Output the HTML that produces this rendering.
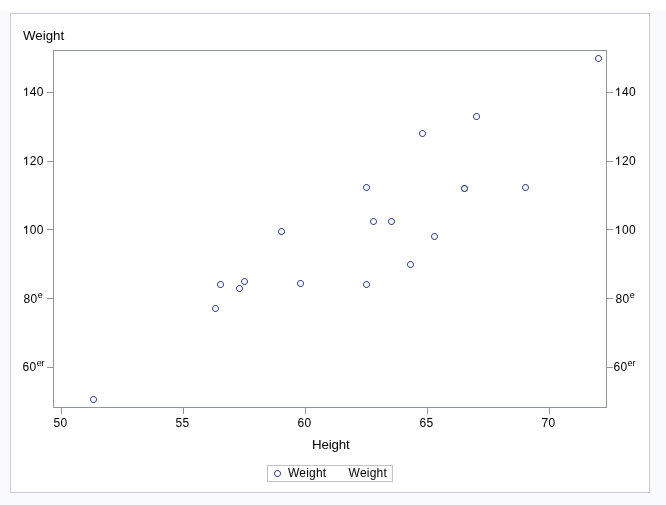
<!DOCTYPE html>
<html><head><meta charset="utf-8"><style>
html,body{margin:0;padding:0;background:#fff;}
body{width:666px;height:505px;position:relative;overflow:hidden;font-family:"Liberation Sans",sans-serif;color:#000;}
#bg{position:absolute;left:0;top:11px;width:666px;height:494px;background:#f9fafe;}
#g{position:absolute;left:10px;top:13px;width:638px;height:478px;border:1px solid #cccccc;background:#fff;}
#main{position:absolute;left:0;top:0;}
svg.o{position:static;display:inline-block;vertical-align:baseline;overflow:visible;}
#txt{position:absolute;left:0;top:0;width:666px;height:505px;will-change:transform;}
.v{position:absolute;letter-spacing:0.33px;font-size:12px;line-height:14px;height:14px;white-space:nowrap;}
.r{text-align:right}.c{text-align:center}
.s{letter-spacing:-0.2px;margin-left:0.2px;font-size:9px;position:relative;top:-5px;line-height:1px;}
.l{position:absolute;font-size:13.33px;line-height:16px;white-space:nowrap;}
#leg{position:absolute;left:267px;top:465px;width:124px;height:15px;border:1px solid #c3c3c3;}
</style></head><body>
<div id="bg"></div><div id="g"></div>
<svg id="main" width="666" height="505" viewBox="0 0 666 505">
<g shape-rendering="crispEdges"><rect x="53.5" y="50.5" width="553" height="357" fill="none" stroke="#90969a"/><rect x="47" y="92" width="6" height="1" fill="#90969a"/><rect x="607" y="92" width="6" height="1" fill="#90969a"/><rect x="47" y="161" width="6" height="1" fill="#90969a"/><rect x="607" y="161" width="6" height="1" fill="#90969a"/><rect x="47" y="229" width="6" height="1" fill="#90969a"/><rect x="607" y="229" width="6" height="1" fill="#90969a"/><rect x="47" y="298" width="6" height="1" fill="#90969a"/><rect x="607" y="298" width="6" height="1" fill="#90969a"/><rect x="47" y="367" width="6" height="1" fill="#90969a"/><rect x="607" y="367" width="6" height="1" fill="#90969a"/><rect x="61" y="408" width="1" height="6" fill="#90969a"/><rect x="183" y="408" width="1" height="6" fill="#90969a"/><rect x="305" y="408" width="1" height="6" fill="#90969a"/><rect x="427" y="408" width="1" height="6" fill="#90969a"/><rect x="549" y="408" width="1" height="6" fill="#90969a"/></g>
<defs><g id="m" shape-rendering="crispEdges" fill="#445694"><rect x="1" y="0" width="1" height="1" opacity="0.22"/><rect x="2" y="0" width="1" height="1" opacity="0.9"/><rect x="3" y="0" width="1" height="1" opacity="1"/><rect x="4" y="0" width="1" height="1" opacity="0.9"/><rect x="5" y="0" width="1" height="1" opacity="0.22"/><rect x="0" y="1" width="1" height="1" opacity="0.22"/><rect x="1" y="1" width="1" height="1" opacity="0.95"/><rect x="2" y="1" width="1" height="1" opacity="0.28"/><rect x="4" y="1" width="1" height="1" opacity="0.28"/><rect x="5" y="1" width="1" height="1" opacity="0.95"/><rect x="6" y="1" width="1" height="1" opacity="0.22"/><rect x="0" y="2" width="1" height="1" opacity="0.9"/><rect x="1" y="2" width="1" height="1" opacity="0.28"/><rect x="5" y="2" width="1" height="1" opacity="0.28"/><rect x="6" y="2" width="1" height="1" opacity="0.9"/><rect x="0" y="3" width="1" height="1" opacity="1"/><rect x="6" y="3" width="1" height="1" opacity="1"/><rect x="0" y="4" width="1" height="1" opacity="0.9"/><rect x="1" y="4" width="1" height="1" opacity="0.28"/><rect x="5" y="4" width="1" height="1" opacity="0.28"/><rect x="6" y="4" width="1" height="1" opacity="0.9"/><rect x="0" y="5" width="1" height="1" opacity="0.22"/><rect x="1" y="5" width="1" height="1" opacity="0.95"/><rect x="2" y="5" width="1" height="1" opacity="0.28"/><rect x="4" y="5" width="1" height="1" opacity="0.28"/><rect x="5" y="5" width="1" height="1" opacity="0.95"/><rect x="6" y="5" width="1" height="1" opacity="0.22"/><rect x="1" y="6" width="1" height="1" opacity="0.22"/><rect x="2" y="6" width="1" height="1" opacity="0.9"/><rect x="3" y="6" width="1" height="1" opacity="1"/><rect x="4" y="6" width="1" height="1" opacity="0.9"/><rect x="5" y="6" width="1" height="1" opacity="0.22"/></g></defs>
<g><use href="#m" x="522" y="184"/><use href="#m" x="217" y="281"/><use href="#m" x="431" y="233"/><use href="#m" x="370" y="218"/><use href="#m" x="388" y="218"/><use href="#m" x="236" y="285"/><use href="#m" x="297" y="280"/><use href="#m" x="363" y="184"/><use href="#m" x="363" y="281"/><use href="#m" x="278" y="228"/><use href="#m" x="90" y="396"/><use href="#m" x="407" y="261"/><use href="#m" x="212" y="305"/><use href="#m" x="461" y="185"/><use href="#m" x="595" y="55"/><use href="#m" x="419" y="130"/><use href="#m" x="473" y="113"/><use href="#m" x="241" y="278"/><use href="#m" x="461" y="185"/><use href="#m" x="274" y="470"/></g>
</svg>
<div id="txt">
<div class="v r" style="left:13.8px;width:30px;top:85px"><svg class="o" width="7" height="9" viewBox="0 0 7 9"><path transform="translate(-0.3,9) scale(0.005859,-0.005859)" d="M763 0H583V1147Q518 1085 412.5 1023Q307 961 223 930V1104Q374 1175 487 1276Q600 1377 647 1472H763Z"/></svg>40</div><div class="v" style="left:615px;top:85px"><svg class="o" width="7" height="9" viewBox="0 0 7 9"><path transform="translate(-0.3,9) scale(0.005859,-0.005859)" d="M763 0H583V1147Q518 1085 412.5 1023Q307 961 223 930V1104Q374 1175 487 1276Q600 1377 647 1472H763Z"/></svg>40</div><div class="v r" style="left:13.8px;width:30px;top:154px"><svg class="o" width="7" height="9" viewBox="0 0 7 9"><path transform="translate(-0.3,9) scale(0.005859,-0.005859)" d="M763 0H583V1147Q518 1085 412.5 1023Q307 961 223 930V1104Q374 1175 487 1276Q600 1377 647 1472H763Z"/></svg>20</div><div class="v" style="left:615px;top:154px"><svg class="o" width="7" height="9" viewBox="0 0 7 9"><path transform="translate(-0.3,9) scale(0.005859,-0.005859)" d="M763 0H583V1147Q518 1085 412.5 1023Q307 961 223 930V1104Q374 1175 487 1276Q600 1377 647 1472H763Z"/></svg>20</div><div class="v r" style="left:13.8px;width:30px;top:223px"><svg class="o" width="7" height="9" viewBox="0 0 7 9"><path transform="translate(-0.3,9) scale(0.005859,-0.005859)" d="M763 0H583V1147Q518 1085 412.5 1023Q307 961 223 930V1104Q374 1175 487 1276Q600 1377 647 1472H763Z"/></svg>00</div><div class="v" style="left:615px;top:223px"><svg class="o" width="7" height="9" viewBox="0 0 7 9"><path transform="translate(-0.3,9) scale(0.005859,-0.005859)" d="M763 0H583V1147Q518 1085 412.5 1023Q307 961 223 930V1104Q374 1175 487 1276Q600 1377 647 1472H763Z"/></svg>00</div><div class="v" style="left:23.5px;top:292px">80<span class="s">e</span></div><div class="v" style="left:615.5px;top:292px">80<span class="s">e</span></div><div class="v" style="left:22.6px;top:360px">60<span class="s">er</span></div><div class="v" style="left:613.4px;top:360px">60<span class="s">er</span></div><div class="v c" style="left:40.6px;width:40px;top:416px">50</div><div class="v c" style="left:162.6px;width:40px;top:416px">55</div><div class="v c" style="left:284.6px;width:40px;top:416px">60</div><div class="v c" style="left:406.6px;width:40px;top:416px">65</div><div class="v c" style="left:528.6px;width:40px;top:416px">70</div>
<div class="l" style="left:23px;top:28px">Weight</div>
<div class="l" style="left:312px;top:437px;letter-spacing:-0.15px">Height</div>
<div id="leg"></div>
<div class="v" style="left:288px;top:466px;letter-spacing:0.2px">Weight</div>
<div class="v" style="left:348.6px;top:466px;letter-spacing:0.2px">Weight</div>
</div>
</body></html>
